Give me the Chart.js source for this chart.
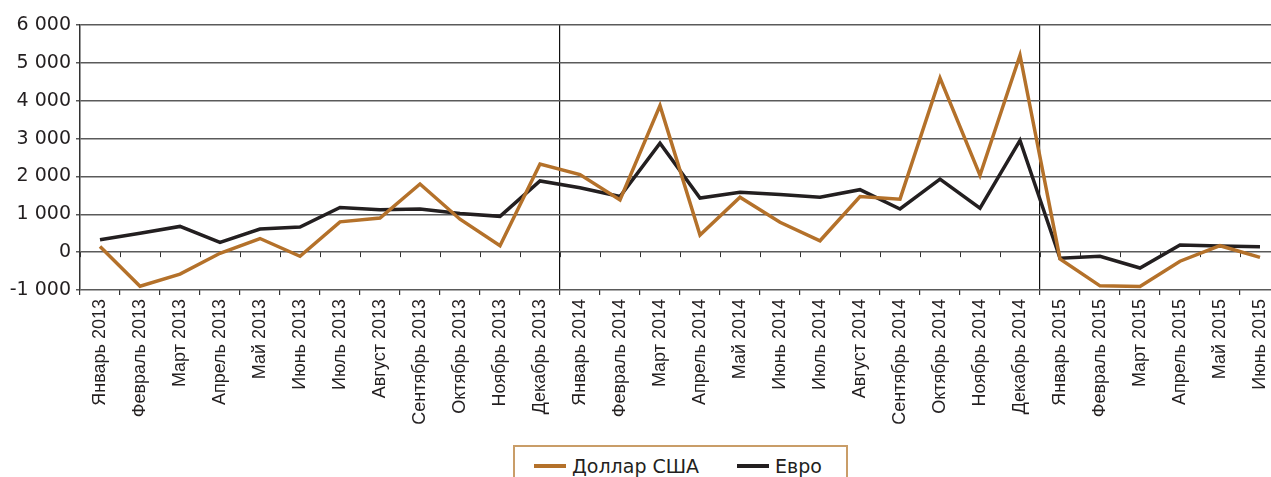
<!DOCTYPE html>
<html lang="ru">
<head>
<meta charset="utf-8">
<script src="https://cdn.jsdelivr.net/npm/chart.js@4/dist/chart.umd.min.js"></script>
<style>
    html, body { margin: 0; padding: 0; background: #fff; overflow: hidden; }
    #wrap { position: relative; width: 1290px; height: 477px; }
    #chartBox { position: absolute; left: 0; top: 0; width: 1290px; height: 440px; }
    #legend {
        position: absolute; left: 513px; top: 445px; width: 335px; height: 50px;
        border: 2px solid #c99d68; box-sizing: border-box;
        font-family: "DejaVu Sans", sans-serif; font-size: 19px; color: #231f20;
        display: flex; align-items: flex-start; padding: 8px 0 0 19px;
        white-space: nowrap;
    }
    .item { display: flex; align-items: center; margin-right: 38px; flex-shrink: 0; white-space: nowrap; }
    .swatch { display: inline-block; width: 32px; height: 4px; margin-right: 6px; flex-shrink: 0; }
</style>
</head>
<body>
<div id="wrap">
    <div id="chartBox"><canvas id="currencyChart"></canvas></div>
    <div id="legend"></div>
</div>
<script>
// Месяцы и годы
const months = ['Январь', 'Февраль', 'Март', 'Апрель', 'Май', 'Июнь', 'Июль', 'Август',
    'Сентябрь', 'Октябрь', 'Ноябрь', 'Декабрь'];
const years = [2013, 2014, 2015];
const monthCount = 30;

const labels = [];
for (let i = 0; i < monthCount; i++) {
    labels.push(months[i % 12] + ' ' + years[Math.floor(i / 12)]);
}

// Значения
const usdValues = [150, -900, -580, -30, 360, -110, 800, 900, 1800, 870, 170, 2330,
    2050, 1380, 3870, 450, 1450, 790, 300, 1470, 1400, 4600, 2030, 5200,
    -180, -890, -910, -240, 170, -140];
const eurValues = [330, 500, 680, 260, 610, 665, 1180, 1120, 1140, 1020, 946, 1880,
    1700, 1470, 2880, 1430, 1580, 1520, 1450, 1650, 1140, 1930, 1160, 2950,
    -160, -110, -420, 190, 160, 140];

const seriesNames = ['Доллар США', 'Евро'];
const seriesColors = ['#b4712a', '#231f20'];
const yTicks = { min: -1000, max: 6000, step: 1000 };
const yearBreaks = [12, 24]; // границы между годами

function fmt(v) {
    const s = String(Math.abs(v)).replace(/\B(?=(\d{3})+(?!\d))/g, ' ');
    return (v < 0 ? '-' : '') + s;
}

// Засечки по оси X на нулевой линии
const zeroTicks = {
    id: 'zeroTicks',
    beforeDatasetsDraw(chart) {
        const x = chart.scales.x, y = chart.scales.y;
        const y0 = y.getPixelForValue(0);
        const half = (x.getPixelForValue(1) - x.getPixelForValue(0)) / 2;
        const ctx = chart.ctx;
        ctx.save();
        ctx.strokeStyle = '#333';
        ctx.lineWidth = 1;
        ctx.beginPath();
        for (let i = 0; i <= labels.length; i++) {
            const px = Math.round(x.getPixelForValue(i) - half) + 0.5;
            ctx.moveTo(px, y0);
            ctx.lineTo(px, y0 + 5);
        }
        ctx.stroke();
        ctx.restore();
    }
};

const ctx = document.getElementById('currencyChart').getContext('2d');
const chart = new Chart(ctx, {
    type: 'line',
    data: {
        labels: labels,
        datasets: [
            {
                label: seriesNames[0],
                data: usdValues,
                borderColor: seriesColors[0],
                backgroundColor: seriesColors[0],
                borderWidth: 3.5,
                pointRadius: 0,
                tension: 0
            },
            {
                label: seriesNames[1],
                data: eurValues,
                borderColor: seriesColors[1],
                backgroundColor: seriesColors[1],
                borderWidth: 3.5,
                pointRadius: 0,
                tension: 0
            }
        ]
    },
    options: {
        responsive: true,
        maintainAspectRatio: false,
        animation: false,
        layout: { padding: { top: 25, right: 10, left: 0, bottom: 0 } },
        plugins: {
            legend: { display: false },
            tooltip: { enabled: false }
        },
        scales: {
            x: {
                offset: true,
                grid: {
                    offset: true,
                    drawOnChartArea: true,
                    color: (c) => yearBreaks.includes(c.index) ? '#111' : 'rgba(0,0,0,0)',
                    lineWidth: 1.2,
                    tickColor: '#333',
                    tickLength: 5
                },
                border: { display: false },
                ticks: {
                    autoSkip: false,
                    maxRotation: 90,
                    minRotation: 90,
                    padding: 4,
                    color: '#231f20',
                    font: { family: '"Liberation Sans", Arial, sans-serif', size: 18 }
                },
                afterFit: (scale) => { scale.height = 150; }
            },
            y: {
                min: yTicks.min,
                max: yTicks.max,
                grid: {
                    color: '#5a5a5a',
                    lineWidth: 1.5,
                    tickColor: '#5a5a5a',
                    tickLength: 4
                },
                border: { display: true, color: '#333', width: 1.5 },
                ticks: {
                    stepSize: yTicks.step,
                    padding: 5,
                    color: '#231f20',
                    font: { family: '"DejaVu Sans", sans-serif', size: 19 },
                    callback: (v) => fmt(v)
                },
                afterFit: (scale) => { scale.width = 80; }
            }
        }
    },
    plugins: [zeroTicks]
});

// Легенда в рамке
const legendEl = document.getElementById('legend');
chart.data.datasets.forEach((ds) => {
    const item = document.createElement('span');
    item.className = 'item';
    const sw = document.createElement('span');
    sw.className = 'swatch';
    sw.style.background = ds.borderColor;
    item.appendChild(sw);
    item.appendChild(document.createTextNode(ds.label));
    legendEl.appendChild(item);
});
</script>
</body>
</html>
